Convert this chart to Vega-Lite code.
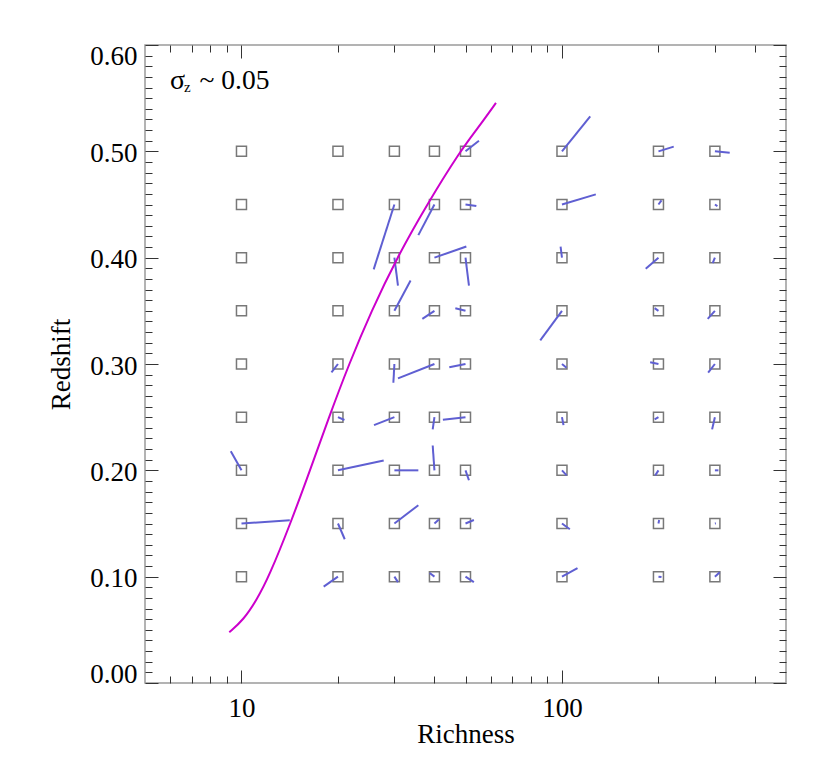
{
  "$schema": "https://vega.github.io/schema/vega-lite/v6.json",
  "width": 641,
  "height": 638,
  "autosize": {"type": "none"},
  "padding": {"left": 145, "top": 45, "right": 44, "bottom": 92},
  "background": "white",
  "config": {
    "view": {"stroke": "#9a9a9a", "strokeWidth": 1.5},
    "axis": {
      "domain": false,
      "grid": false,
      "tickColor": "#333333",
      "tickWidth": 1,
      "labelFont": "Liberation Serif",
      "labelFontSize": 27,
      "labelColor": "#000000",
      "titleFont": "Liberation Serif",
      "titleFontSize": 27,
      "titleFontWeight": "normal",
      "titleColor": "#000000",
      "labelOverlap": false,
      "labelFlush": false,
      "labelBound": false
    }
  },
  "datasets": {
    "vec": [
      {"r": 10, "z": 0.10, "r2": 10, "z2": 0.10},
      {"r": 10, "z": 0.15, "r2": 14.15, "z2": 0.153},
      {"r": 10, "z": 0.20, "r2": 9.26, "z2": 0.218},
      {"r": 10, "z": 0.25, "r2": 10, "z2": 0.25},
      {"r": 10, "z": 0.30, "r2": 10, "z2": 0.30},
      {"r": 10, "z": 0.35, "r2": 10, "z2": 0.35},
      {"r": 10, "z": 0.40, "r2": 10, "z2": 0.40},
      {"r": 10, "z": 0.45, "r2": 10, "z2": 0.45},
      {"r": 10, "z": 0.50, "r2": 10, "z2": 0.50},
      {"r": 20, "z": 0.10, "r2": 18.05, "z2": 0.0906},
      {"r": 20, "z": 0.15, "r2": 21.0, "z2": 0.1352},
      {"r": 20, "z": 0.20, "r2": 27.78, "z2": 0.2093},
      {"r": 20, "z": 0.25, "r2": 20.95, "z2": 0.2473},
      {"r": 20, "z": 0.30, "r2": 19.09, "z2": 0.2922},
      {"r": 20, "z": 0.35, "r2": 20, "z2": 0.35},
      {"r": 20, "z": 0.40, "r2": 20, "z2": 0.40},
      {"r": 20, "z": 0.45, "r2": 20, "z2": 0.45},
      {"r": 20, "z": 0.50, "r2": 20, "z2": 0.50},
      {"r": 30, "z": 0.10, "r2": 30.78, "z2": 0.0949},
      {"r": 30, "z": 0.15, "r2": 35.63, "z2": 0.1672},
      {"r": 30, "z": 0.20, "r2": 35.63, "z2": 0.20},
      {"r": 30, "z": 0.25, "r2": 25.91, "z2": 0.2425},
      {"r": 30, "z": 0.30, "r2": 29.78, "z2": 0.2824},
      {"r": 30, "z": 0.35, "r2": 33.7, "z2": 0.3785},
      {"r": 30, "z": 0.40, "r2": 30.78, "z2": 0.3738},
      {"r": 30, "z": 0.45, "r2": 25.85, "z2": 0.389},
      {"r": 30, "z": 0.50, "r2": 30, "z2": 0.50},
      {"r": 40, "z": 0.10, "r2": 38.65, "z2": 0.1034},
      {"r": 40, "z": 0.15, "r2": 41.3, "z2": 0.1537},
      {"r": 40, "z": 0.20, "r2": 39.5, "z2": 0.2234},
      {"r": 40, "z": 0.25, "r2": 39.5, "z2": 0.2385},
      {"r": 40, "z": 0.30, "r2": 30.78, "z2": 0.2865},
      {"r": 40, "z": 0.35, "r2": 36.67, "z2": 0.3424},
      {"r": 40, "z": 0.40, "r2": 50.3, "z2": 0.4105},
      {"r": 40, "z": 0.45, "r2": 35.63, "z2": 0.4212},
      {"r": 40, "z": 0.50, "r2": 40, "z2": 0.50},
      {"r": 50, "z": 0.10, "r2": 53.1, "z2": 0.0949},
      {"r": 50, "z": 0.15, "r2": 53.1, "z2": 0.1533},
      {"r": 50, "z": 0.20, "r2": 51.25, "z2": 0.1907},
      {"r": 50, "z": 0.25, "r2": 42.5, "z2": 0.2475},
      {"r": 50, "z": 0.30, "r2": 44.5, "z2": 0.2969},
      {"r": 50, "z": 0.35, "r2": 46.47, "z2": 0.3525},
      {"r": 50, "z": 0.40, "r2": 51.25, "z2": 0.3738},
      {"r": 50, "z": 0.45, "r2": 54.05, "z2": 0.4485},
      {"r": 50, "z": 0.50, "r2": 55.07, "z2": 0.510},
      {"r": 100, "z": 0.10, "r2": 111.8, "z2": 0.1081},
      {"r": 100, "z": 0.15, "r2": 105.8, "z2": 0.1446},
      {"r": 100, "z": 0.20, "r2": 103.4, "z2": 0.1952},
      {"r": 100, "z": 0.25, "r2": 101.1, "z2": 0.2425},
      {"r": 100, "z": 0.30, "r2": 103.3, "z2": 0.2965},
      {"r": 100, "z": 0.35, "r2": 85.55, "z2": 0.3223},
      {"r": 100, "z": 0.40, "r2": 99.0, "z2": 0.4105},
      {"r": 100, "z": 0.45, "r2": 127.5, "z2": 0.4595},
      {"r": 100, "z": 0.50, "r2": 122.5, "z2": 0.5329},
      {"r": 200, "z": 0.10, "r2": 204.4, "z2": 0.0997},
      {"r": 200, "z": 0.15, "r2": 201, "z2": 0.1533},
      {"r": 200, "z": 0.20, "r2": 195.3, "z2": 0.1952},
      {"r": 200, "z": 0.25, "r2": 194.6, "z2": 0.2479},
      {"r": 200, "z": 0.30, "r2": 188.4, "z2": 0.3016},
      {"r": 200, "z": 0.35, "r2": 194.6, "z2": 0.3525},
      {"r": 200, "z": 0.40, "r2": 182.5, "z2": 0.3895},
      {"r": 200, "z": 0.45, "r2": 204.4, "z2": 0.4538},
      {"r": 200, "z": 0.50, "r2": 223.2, "z2": 0.5044},
      {"r": 300, "z": 0.10, "r2": 310.6, "z2": 0.1041},
      {"r": 300, "z": 0.15, "r2": 302, "z2": 0.1502},
      {"r": 300, "z": 0.20, "r2": 307.7, "z2": 0.20},
      {"r": 300, "z": 0.25, "r2": 294, "z2": 0.2385},
      {"r": 300, "z": 0.30, "r2": 285.8, "z2": 0.2918},
      {"r": 300, "z": 0.35, "r2": 284.9, "z2": 0.3424},
      {"r": 300, "z": 0.40, "r2": 295.3, "z2": 0.3948},
      {"r": 300, "z": 0.45, "r2": 305.5, "z2": 0.4485},
      {"r": 300, "z": 0.50, "r2": 333.7, "z2": 0.4987}
    ],
    "curve": [
      {"r": 9.16, "z": 0.0477},
      {"r": 10.13, "z": 0.0592},
      {"r": 11.15, "z": 0.078},
      {"r": 12.18, "z": 0.10},
      {"r": 14.22, "z": 0.15},
      {"r": 16.36, "z": 0.20},
      {"r": 18.75, "z": 0.25},
      {"r": 21.65, "z": 0.30},
      {"r": 25.44, "z": 0.35},
      {"r": 30.56, "z": 0.40},
      {"r": 37.92, "z": 0.45},
      {"r": 48.07, "z": 0.50},
      {"r": 54.7, "z": 0.522},
      {"r": 62.23, "z": 0.5455}
    ]
  },
  "resolve": {"axis": {"x": "independent", "y": "independent"}},
  "layer": [
    {
      "data": {"name": "vec"},
      "mark": {"type": "point", "shape": "square", "size": 100, "filled": false, "stroke": "#787878", "strokeWidth": 1.5, "opacity": 1},
      "encoding": {
        "x": {
          "field": "r", "type": "quantitative",
          "scale": {"type": "log", "domain": [5, 500], "nice": false},
          "axis": {
            "orient": "bottom",
            "title": "Richness",
            "titlePadding": -6,
            "values": [6, 7, 8, 9, 10, 20, 30, 40, 50, 60, 70, 80, 90, 100, 200, 300, 400],
            "labelExpr": "datum.value == 10 || datum.value == 100 ? format(datum.value, 'd') : ''",
            "tickSize": {"condition": {"test": "datum.value == 10 || datum.value == 100", "value": -13}, "value": -7},
            "labelPadding": 25
          }
        },
        "y": {
          "field": "z", "type": "quantitative",
          "scale": {"domain": [0, 0.6], "nice": false, "zero": false},
          "axis": {
            "orient": "left",
            "title": "Redshift",
            "titlePadding": 14,
            "values": [0, 0.01, 0.02, 0.03, 0.04, 0.05, 0.06, 0.07, 0.08, 0.09, 0.1, 0.11, 0.12, 0.13, 0.14, 0.15, 0.16, 0.17, 0.18, 0.19, 0.2, 0.21, 0.22, 0.23, 0.24, 0.25, 0.26, 0.27, 0.28, 0.29, 0.3, 0.31, 0.32, 0.33, 0.34, 0.35, 0.36, 0.37, 0.38, 0.39, 0.4, 0.41, 0.42, 0.43, 0.44, 0.45, 0.46, 0.47, 0.48, 0.49, 0.5, 0.51, 0.52, 0.53, 0.54, 0.55, 0.56, 0.57, 0.58, 0.59, 0.6],
            "labelExpr": "abs(datum.value * 10 - round(datum.value * 10)) < 0.000001 ? format(datum.value, '.2f') : ''",
            "tickSize": {"condition": {"test": "abs(datum.value * 10 - round(datum.value * 10)) < 0.000001", "value": -13}, "value": -7},
            "labelPadding": 21,
            "labelOffset": 2,
            "labelFlush": true,
            "labelFlushOffset": 3.5
          }
        }
      }
    },
    {
      "data": {"name": "vec"},
      "mark": {"type": "rule", "color": "#5f5fd2", "strokeWidth": 2},
      "encoding": {
        "x": {
          "field": "r", "type": "quantitative",
          "scale": {"type": "log", "domain": [5, 500], "nice": false},
          "axis": {
            "orient": "top",
            "title": null,
            "labels": false,
            "values": [6, 7, 8, 9, 10, 20, 30, 40, 50, 60, 70, 80, 90, 100, 200, 300, 400],
            "tickSize": {"condition": {"test": "datum.value == 10 || datum.value == 100", "value": -13}, "value": -7}
          }
        },
        "y": {
          "field": "z", "type": "quantitative",
          "scale": {"domain": [0, 0.6], "nice": false, "zero": false},
          "axis": {
            "orient": "right",
            "title": null,
            "labels": false,
            "values": [0, 0.01, 0.02, 0.03, 0.04, 0.05, 0.06, 0.07, 0.08, 0.09, 0.1, 0.11, 0.12, 0.13, 0.14, 0.15, 0.16, 0.17, 0.18, 0.19, 0.2, 0.21, 0.22, 0.23, 0.24, 0.25, 0.26, 0.27, 0.28, 0.29, 0.3, 0.31, 0.32, 0.33, 0.34, 0.35, 0.36, 0.37, 0.38, 0.39, 0.4, 0.41, 0.42, 0.43, 0.44, 0.45, 0.46, 0.47, 0.48, 0.49, 0.5, 0.51, 0.52, 0.53, 0.54, 0.55, 0.56, 0.57, 0.58, 0.59, 0.6],
            "tickSize": {"condition": {"test": "abs(datum.value * 10 - round(datum.value * 10)) < 0.000001", "value": -13}, "value": -7}
          }
        },
        "x2": {"field": "r2"},
        "y2": {"field": "z2"}
      }
    },
    {
      "data": {"name": "curve"},
      "mark": {"type": "line", "color": "#cc00cc", "strokeWidth": 2, "interpolate": "basis"},
      "encoding": {
        "x": {"field": "r", "type": "quantitative", "scale": {"type": "log", "domain": [5, 500], "nice": false}, "axis": null},
        "y": {"field": "z", "type": "quantitative", "scale": {"domain": [0, 0.6], "nice": false, "zero": false}, "axis": null}
      }
    },
    {
      "data": {"values": [{"t": "σ", "r": 5.98, "z": 0.5584}]},
      "mark": {"type": "text", "font": "Liberation Serif", "fontSize": 28, "align": "left", "baseline": "alphabetic", "color": "#000000"},
      "encoding": {
        "x": {"field": "r", "type": "quantitative", "scale": {"type": "log", "domain": [5, 500], "nice": false}, "axis": null},
        "y": {"field": "z", "type": "quantitative", "scale": {"domain": [0, 0.6], "nice": false, "zero": false}, "axis": null},
        "text": {"field": "t"}
      }
    },
    {
      "data": {"values": [{"t": "z", "r": 6.62, "z": 0.5561}]},
      "mark": {"type": "text", "font": "Liberation Serif", "fontSize": 15, "align": "left", "baseline": "alphabetic", "color": "#000000"},
      "encoding": {
        "x": {"field": "r", "type": "quantitative", "scale": {"type": "log", "domain": [5, 500], "nice": false}, "axis": null},
        "y": {"field": "z", "type": "quantitative", "scale": {"domain": [0, 0.6], "nice": false, "zero": false}, "axis": null},
        "text": {"field": "t"}
      }
    },
    {
      "data": {"values": [{"t": "~ 0.05", "r": 7.4, "z": 0.5584}]},
      "mark": {"type": "text", "font": "Liberation Serif", "fontSize": 27.5, "align": "left", "baseline": "alphabetic", "color": "#000000"},
      "encoding": {
        "x": {"field": "r", "type": "quantitative", "scale": {"type": "log", "domain": [5, 500], "nice": false}, "axis": null},
        "y": {"field": "z", "type": "quantitative", "scale": {"domain": [0, 0.6], "nice": false, "zero": false}, "axis": null},
        "text": {"field": "t"}
      }
    }
  ]
}
